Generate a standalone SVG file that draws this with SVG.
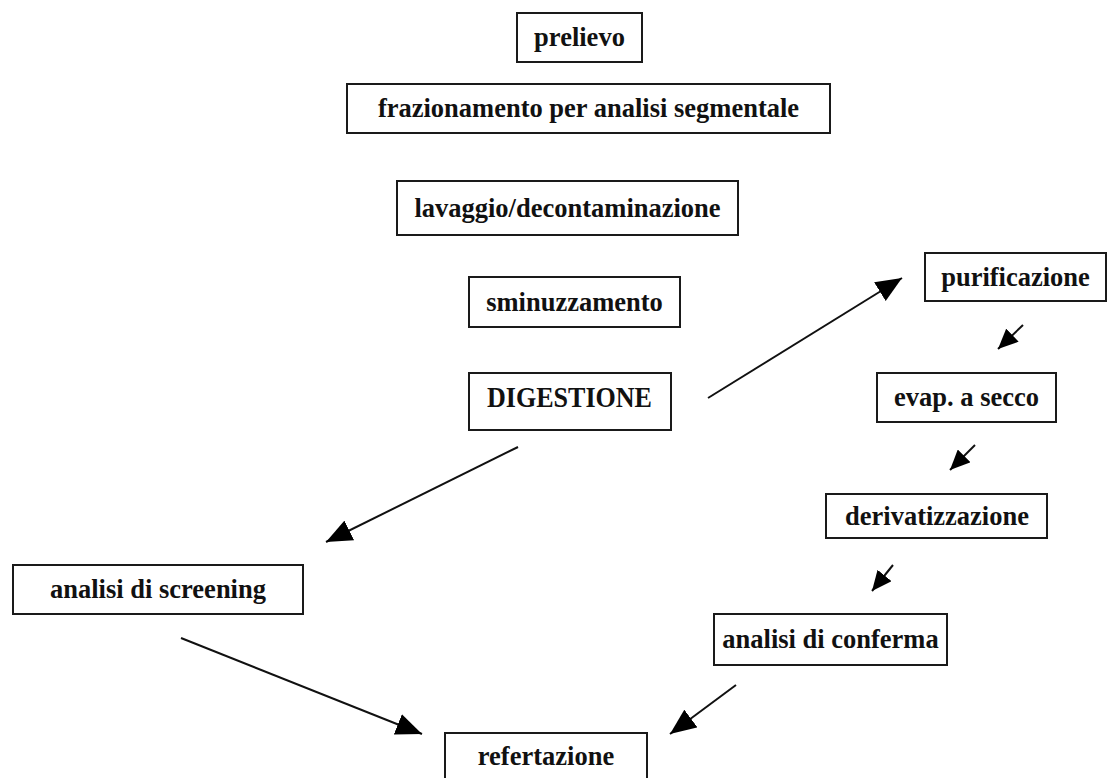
<svg xmlns="http://www.w3.org/2000/svg" width="1109" height="778" viewBox="0 0 1109 778">
<style>
.box{fill:#fff;stroke:#1a1a1a;stroke-width:2}
.lbl{font-family:"Liberation Serif","Times New Roman",serif;font-weight:bold;font-size:26.5px;fill:#111;text-anchor:middle}
.con{stroke:#111;stroke-width:2;fill:none}
</style>
<defs>
<marker id="big" markerUnits="userSpaceOnUse" markerWidth="28" markerHeight="22" refX="26" refY="11" orient="auto">
<path d="M0,0 L26,11 L0,22 Z" fill="#000"/>
</marker>
<marker id="small" markerUnits="userSpaceOnUse" markerWidth="22" markerHeight="18" refX="20" refY="9" orient="auto">
<path d="M0,0 L20,9 L0,18 Z" fill="#000"/>
</marker>
</defs>
<rect width="1109" height="778" fill="#fff"/>
<g id="connectors">
<line class="con" x1="708" y1="398" x2="902" y2="278" marker-end="url(#big)"/>
<line class="con" x1="1023" y1="325" x2="998" y2="349" marker-end="url(#small)"/>
<line class="con" x1="975" y1="445" x2="950" y2="470" marker-end="url(#small)"/>
<line class="con" x1="893" y1="565" x2="872" y2="591" marker-end="url(#small)"/>
<line class="con" x1="736" y1="685" x2="670" y2="734" marker-end="url(#big)"/>
<line class="con" x1="518" y1="447" x2="326" y2="542" marker-end="url(#big)"/>
<line class="con" x1="181" y1="638" x2="422" y2="734" marker-end="url(#big)"/>
</g>
<g id="prelievo"><rect class="box" x="517" y="13" width="125" height="49"/><text class="lbl" x="579.5" y="46">prelievo</text></g>
<g id="frazionamento"><rect class="box" x="347" y="84" width="483" height="49"/><text class="lbl" x="588.5" y="117">frazionamento per analisi segmentale</text></g>
<g id="lavaggio"><rect class="box" x="397" y="181" width="341" height="54"/><text class="lbl" x="567.5" y="216.5">lavaggio/decontaminazione</text></g>
<g id="sminuzzamento"><rect class="box" x="469" y="277" width="211" height="50"/><text class="lbl" x="574.5" y="310.5">sminuzzamento</text></g>
<g id="digestione"><rect class="box" x="469" y="373" width="202" height="57"/><text class="lbl" x="569.5" y="407" style="font-size:29.5px" textLength="165" lengthAdjust="spacingAndGlyphs">DIGESTIONE</text></g>
<g id="purificazione"><rect class="box" x="925" y="253" width="181" height="48"/><text class="lbl" x="1015.5" y="285.5">purificazione</text></g>
<g id="evap"><rect class="box" x="877" y="373" width="179" height="49"/><text class="lbl" x="966.5" y="406">evap. a secco</text></g>
<g id="derivatizzazione"><rect class="box" x="826" y="494" width="221" height="44"/><text class="lbl" x="937" y="525">derivatizzazione</text></g>
<g id="conferma"><rect class="box" x="714" y="614" width="233" height="51"/><text class="lbl" x="830.5" y="648">analisi di conferma</text></g>
<g id="screening"><rect class="box" x="13" y="565" width="290" height="49"/><text class="lbl" x="158" y="598">analisi di screening</text></g>
<g id="refertazione"><rect class="box" x="445" y="733" width="202" height="48"/><text class="lbl" x="546" y="765">refertazione</text></g>
</svg>
